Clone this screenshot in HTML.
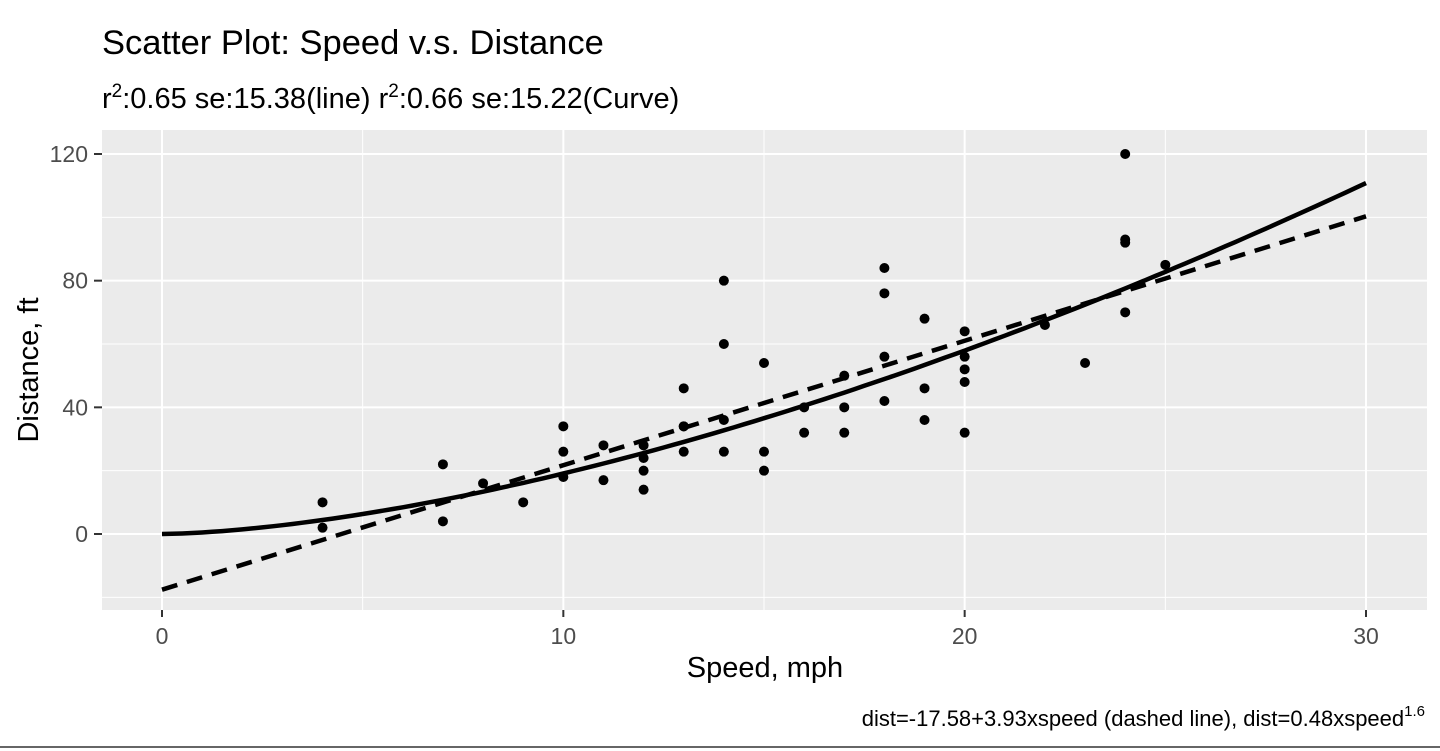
<!DOCTYPE html>
<html><head><meta charset="utf-8"><style>
html,body{margin:0;padding:0;background:#fff;width:1440px;height:751px;overflow:hidden}
svg{display:block;font-family:"Liberation Sans",Arial,sans-serif}
</style></head><body>
<svg id="chart" width="1440" height="751">
<text x="102" y="54" font-size="34.5" fill="#000">Scatter Plot: Speed v.s. Distance</text>
<text x="102" y="108" font-size="29" fill="#000">r<tspan dy="-11" font-size="19">2</tspan><tspan dy="11">:0.65 se:15.38(line) r</tspan><tspan dy="-11" font-size="19">2</tspan><tspan dy="11">:0.66 se:15.22(Curve)</tspan></text>
<rect x="102" y="130" width="1325" height="480" fill="#ebebeb"/>
<g id="grid"></g>
<g id="ticks"></g>
<g id="fits"></g>
<g id="points"></g>
<text x="765" y="677" font-size="29" text-anchor="middle">Speed, mph</text>
<text transform="translate(38,370) rotate(-90)" font-size="29" text-anchor="middle">Distance, ft</text>
<text x="1425" y="726" font-size="22" text-anchor="end">dist=-17.58+3.93xspeed (dashed line), dist=0.48xspeed<tspan dy="-10" font-size="15">1.6</tspan></text>
<rect x="0" y="746" width="1440" height="2" fill="#666"/>
</svg>
<script>
const speed=[4,4,7,7,8,9,10,10,10,11,11,12,12,12,12,13,13,13,13,14,14,14,14,15,15,15,16,16,17,17,17,18,18,18,18,19,19,19,20,20,20,20,20,22,23,24,24,24,24,25];
const dist=[2,10,4,22,16,10,18,26,34,17,28,14,20,24,28,26,34,34,46,26,36,60,80,20,26,54,32,40,32,40,50,42,56,76,84,36,46,68,32,48,52,56,64,66,54,70,92,93,120,85];
const xMajor=[0,10,20,30];
const xMinor=[5,15,25];
const yMajor=[0,40,80,120];
const yMinor=[-20,20,60,100];
const lineCoef=[-17.58,3.93];
const curveCoef=[0.48,1.6];
const NS="http://www.w3.org/2000/svg";
const X=v=>162+v*(1366-162)/30;
const Y=v=>534-v*(534-154)/120;
function mk(tag,attrs,parent){const e=document.createElementNS(NS,tag);for(const k in attrs)e.setAttribute(k,attrs[k]);parent.appendChild(e);return e;}
const grid=document.getElementById('grid'),ticks=document.getElementById('ticks');
xMinor.forEach(v=>{const l=mk('line',{x1:X(v),x2:X(v),y1:130,y2:610,stroke:'#fff','stroke-width':1},grid);

});
yMinor.forEach(v=>{const l=mk('line',{x1:102,x2:1427,y1:Y(v),y2:Y(v),stroke:'#fff','stroke-width':1},grid);

});
xMajor.forEach(v=>{const l=mk('line',{x1:X(v),x2:X(v),y1:130,y2:610,stroke:'#fff','stroke-width':2},grid);


const t=mk('line',{x1:X(v),x2:X(v),y1:610,y2:617,stroke:'#333','stroke-width':2},ticks);


const s=mk('text',{x:X(v),y:644,'font-size':23,fill:'#4d4d4d','text-anchor':'middle'},ticks);s.textContent=v;

});
yMajor.forEach(v=>{const l=mk('line',{x1:102,x2:1427,y1:Y(v),y2:Y(v),stroke:'#fff','stroke-width':2},grid);


const t=mk('line',{x1:94,x2:102,y1:Y(v),y2:Y(v),stroke:'#333','stroke-width':2},ticks);


const s=mk('text',{x:88,y:Y(v)+8,'font-size':23,fill:'#4d4d4d','text-anchor':'end'},ticks);s.textContent=v;

});
const fits=document.getElementById('fits');
let cp=[];for(let i=0;i<=120;i++){const s=i*30/120;cp.push(X(s).toFixed(1)+','+Y(curveCoef[0]*Math.pow(s,curveCoef[1])).toFixed(1));}
const c=mk('polyline',{points:cp.join(' '),fill:'none',stroke:'#000','stroke-width':4.5},fits);


const ln=mk('line',{x1:X(0),y1:Y(lineCoef[0]),x2:X(30),y2:Y(lineCoef[0]+lineCoef[1]*30),stroke:'#000','stroke-width':4.5,'stroke-dasharray':'16,10'},fits);


const pts=document.getElementById('points');
speed.forEach((s,i)=>{const p=mk('circle',{cx:X(s),cy:Y(dist[i]),r:5,fill:'#000'},pts);

});
</script>
</body></html>
